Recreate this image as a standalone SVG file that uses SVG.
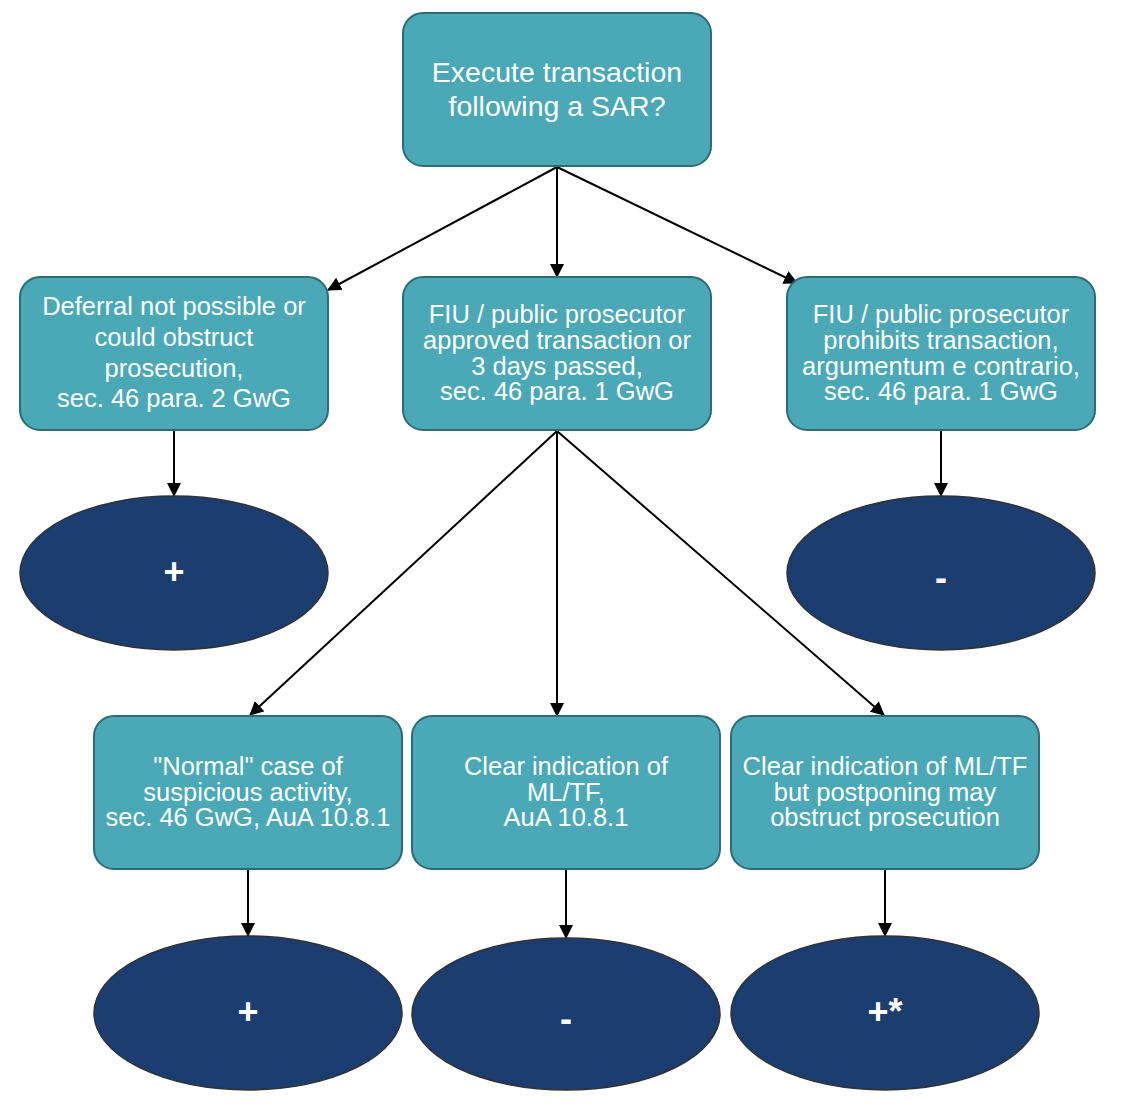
<svg xmlns="http://www.w3.org/2000/svg" width="1125" height="1114" viewBox="0 0 1125 1114">
<defs>
<style>
.box{fill:#4aa8b7;stroke:#2d6c76;stroke-width:2}
.ell{fill:#1b3d70;stroke:#333;stroke-width:1.5}
.t{font-family:"Liberation Sans",Arial,sans-serif;font-size:25.5px;fill:#fff;text-anchor:middle}
.tt{font-family:"Liberation Sans",Arial,sans-serif;font-size:28.5px;fill:#fff;text-anchor:middle}
.s{font-family:"Liberation Sans",Arial,sans-serif;font-size:36px;font-weight:bold;fill:#fff;text-anchor:middle}
.c{stroke:#000;stroke-width:2;fill:none;marker-end:url(#ah)}
</style>
<marker id="ah" markerUnits="userSpaceOnUse" markerWidth="14" markerHeight="14" refX="13" refY="7" orient="auto" viewBox="0 0 14 14">
<path d="M0,0 L14,7 L0,14 z" fill="#000"/>
</marker>
</defs>
<rect width="1125" height="1114" fill="#fff"/>
<g id="connectors">
<line class="c" x1="557" y1="167" x2="328" y2="290"/>
<line class="c" x1="557" y1="167" x2="557" y2="277"/>
<line class="c" x1="557" y1="167" x2="797" y2="283"/>
<line class="c" x1="174" y1="431" x2="174" y2="496"/>
<line class="c" x1="941" y1="431" x2="941" y2="496"/>
<line class="c" x1="557" y1="431" x2="250" y2="715"/>
<line class="c" x1="557" y1="431" x2="557" y2="716"/>
<line class="c" x1="557" y1="431" x2="884" y2="715"/>
<line class="c" x1="248" y1="870" x2="248" y2="936"/>
<line class="c" x1="566" y1="870" x2="566" y2="938"/>
<line class="c" x1="885" y1="870" x2="885" y2="936"/>
</g>
<g id="n-top">
<rect class="box" x="403" y="13" width="308" height="153" rx="20"/>
<text class="tt" x="557" y="82">Execute transaction</text>
<text class="tt" x="557" y="116">following a SAR?</text>
</g>
<g id="n-deferral">
<rect class="box" x="20" y="277" width="308" height="153" rx="20"/>
<text class="t" x="174" y="315">Deferral not possible or</text>
<text class="t" x="174" y="346">could obstruct</text>
<text class="t" x="174" y="377">prosecution,</text>
<text class="t" x="174" y="407">sec. 46 para. 2 GwG</text>
</g>
<g id="n-approved">
<rect class="box" x="403" y="277" width="308" height="153" rx="20"/>
<text class="t" x="557" y="323">FIU / public prosecutor</text>
<text class="t" x="557" y="349">approved transaction or</text>
<text class="t" x="557" y="375">3 days passed,</text>
<text class="t" x="557" y="400">sec. 46 para. 1 GwG</text>
</g>
<g id="n-prohibits">
<rect class="box" x="787" y="277" width="308" height="153" rx="20"/>
<text class="t" x="941" y="323">FIU / public prosecutor</text>
<text class="t" x="941" y="349">prohibits transaction,</text>
<text class="t" x="941" y="375">argumentum e contrario,</text>
<text class="t" x="941" y="400">sec. 46 para. 1 GwG</text>
</g>
<g id="e-left">
<ellipse class="ell" cx="174" cy="573" rx="154" ry="77"/>
<text class="s" x="174" y="584">+</text>
</g>
<g id="e-right">
<ellipse class="ell" cx="941" cy="573" rx="154" ry="77"/>
<text class="s" x="941" y="590">-</text>
</g>
<g id="n-normal">
<rect class="box" x="94" y="716" width="308" height="153" rx="20"/>
<text class="t" x="248" y="775">"Normal" case of</text>
<text class="t" x="248" y="801">suspicious activity,</text>
<text class="t" x="248" y="826">sec. 46 GwG, AuA 10.8.1</text>
</g>
<g id="n-clear">
<rect class="box" x="412" y="716" width="308" height="153" rx="20"/>
<text class="t" x="566" y="775">Clear indication of</text>
<text class="t" x="566" y="801">ML/TF,</text>
<text class="t" x="566" y="826">AuA 10.8.1</text>
</g>
<g id="n-clear-postpone">
<rect class="box" x="731" y="716" width="308" height="153" rx="20"/>
<text class="t" x="885" y="775">Clear indication of ML/TF</text>
<text class="t" x="885" y="801">but postponing may</text>
<text class="t" x="885" y="826">obstruct prosecution</text>
</g>
<g id="e-normal">
<ellipse class="ell" cx="248" cy="1013" rx="154" ry="77"/>
<text class="s" x="248" y="1024">+</text>
</g>
<g id="e-clear">
<ellipse class="ell" cx="566" cy="1014" rx="154" ry="76"/>
<text class="s" x="566" y="1031">-</text>
</g>
<g id="e-clear-postpone">
<ellipse class="ell" cx="885" cy="1013" rx="154" ry="77"/>
<text class="s" x="885" y="1024">+*</text>
</g>
</svg>
